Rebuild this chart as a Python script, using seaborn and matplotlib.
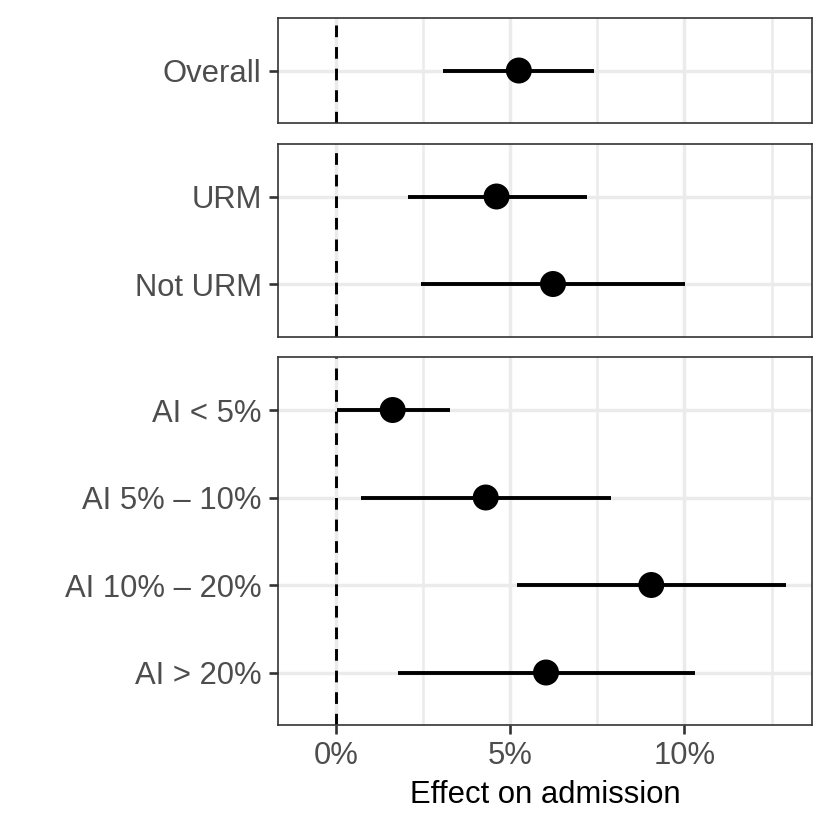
import numpy as np
import pandas as pd
import seaborn as sns
import matplotlib.pyplot as plt

# estimates (percentage points)
labels = ["Overall", "URM", "Not URM",
          "AI < 5%", "AI 5% \u2013 10%", "AI 10% \u2013 20%", "AI > 20%"]
panel = [0, 1, 1, 2, 2, 2, 2]
estimate = [5.25, 4.61, 6.23, 1.63, 4.30, 9.05, 6.03]
ci_low = [3.08, 2.06, 2.45, 0.02, 0.72, 5.21, 1.78]
ci_high = [7.41, 7.20, 10.01, 3.28, 7.90, 12.91, 10.31]

x_ticks = [0, 5, 10]
x_tick_labels = ["0%", "5%", "10%"]
x_minor = [2.5, 7.5, 12.5]

df = pd.DataFrame({"label": labels, "panel": panel, "est": estimate,
                   "lo": ci_low, "hi": ci_high})
df["row"] = df.groupby("panel").cumcount()
counts = df.groupby("panel").size().tolist()

sns.set_theme(style="white")
plt.rcParams["font.family"] = ["Liberation Sans", "DejaVu Sans"]

fig, axes = plt.subplots(
    3, 1, figsize=(8.3, 8.3), dpi=100, sharex=True,
    gridspec_kw={"height_ratios": [n + 0.2 for n in counts], "hspace": 0.0947},
)
fig.subplots_adjust(left=0.3349, right=0.9783, top=0.9783, bottom=0.1265)

grid_col = "#EBEBEB"
dark = "#333333"

for p, ax in enumerate(axes):
    d = df[df["panel"] == p]
    n = len(d)
    ax.set_axisbelow(True)

    ax.set_xticks(x_ticks)
    ax.set_xticks(x_minor, minor=True)
    ax.grid(which="major", color=grid_col, lw=2.5)
    ax.grid(which="minor", axis="x", color=grid_col, lw=1.8)

    ax.axvline(0, color="black", lw=2.1, dashes=(4.0, 3.4), zorder=2)
    ax.hlines(d["row"], d["lo"], d["hi"], color="black", lw=2.8, zorder=3)
    sns.scatterplot(data=d, x="est", y="row", s=350, color="black",
                    edgecolor="none", legend=False, ax=ax, zorder=4)

    ax.set_xlim(-1.66, 13.66)
    ax.set_ylim(n - 0.4, -0.6)
    ax.set_yticks(d["row"].tolist(), d["label"].tolist())
    ax.set_ylabel("")
    ax.set_xlabel("")

    for s in ax.spines.values():
        s.set_color(dark)
        s.set_linewidth(1.2)

    ax.tick_params(which="major", length=6.8, width=1.9, color=dark,
                   labelsize=22.3, labelcolor="#4D4D4D", pad=5.0)
    ax.tick_params(which="minor", length=0)
    ax.tick_params(axis="y", left=True)
    ax.tick_params(axis="x", bottom=(p == 2))

axes[-1].set_xticks(x_ticks, x_tick_labels)
axes[-1].set_xlabel("Effect on admission", fontsize=22.3, color="black", labelpad=6)

fig.savefig("out.png", dpi=100)
